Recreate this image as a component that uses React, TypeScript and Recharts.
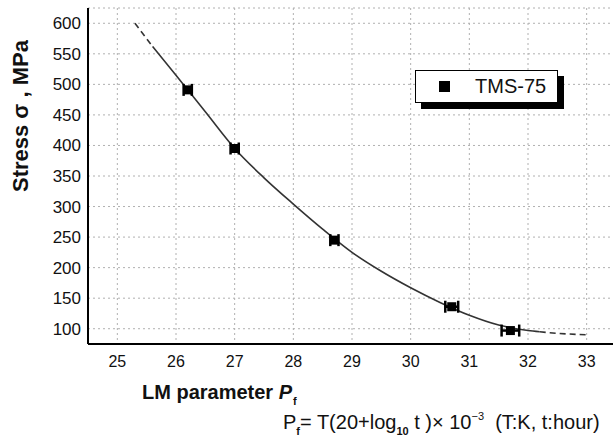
import React from 'react';
import {
  ComposedChart,
  Line,
  Scatter,
  ErrorBar,
  XAxis,
  YAxis,
  CartesianGrid,
} from 'recharts';

// measured rupture points (LM parameter, stress, horizontal error half-width)
const pointLM = [26.2, 27.0, 28.7, 30.7, 31.7];
const pointStress = [491, 395, 245, 136, 97];
const pointErr = [0.07, 0.07, 0.07, 0.11, 0.15];

// fitted curve: solid part and dashed extrapolations
const fitLM = [25.6, 26, 26.2, 26.5, 27, 27.5, 28, 28.5, 29, 29.5, 30, 30.5, 31, 31.5, 32, 32.2];
const fitStress = [562, 515, 491, 455, 395, 347, 304, 263, 225, 194, 167, 143, 122, 106, 97, 95];
const extLeftLM = [25.3, 25.6];
const extLeftStress = [600, 562];
const extRightLM = [32.2, 32.5, 33];
const extRightStress = [95, 92.5, 90];

const xTicks = [25, 26, 27, 28, 29, 30, 31, 32, 33];
const xMinorTicks = [25.5, 26.5, 27.5, 28.5, 29.5, 30.5, 31.5, 32.5];
const yTicks = [100, 150, 200, 250, 300, 350, 400, 450, 500, 550, 600];
const yMinorTicks = [125, 175, 225, 275, 325, 375, 425, 475, 525, 575];

const seriesName = 'TMS-75';

const points = pointLM.map((x, i) => ({ x, y: pointStress[i], err: pointErr[i] }));
const fit = fitLM.map((x, i) => ({ x, y: fitStress[i] }));
const extLeft = extLeftLM.map((x, i) => ({ x, y: extLeftStress[i] }));
const extRight = extRightLM.map((x, i) => ({ x, y: extRightStress[i] }));

const FONT = '"Liberation Sans", Arial, sans-serif';
const noTick = () => <g />;

function Square(props: any) {
  const { cx, cy } = props;
  if (cx == null || cy == null) return <g />;
  return <rect x={cx - 4.5} y={cy - 4.5} width={9} height={9} fill="#000" />;
}

export default function App() {
  return (
    <div
      style={{
        position: 'absolute',
        left: 0,
        top: 0,
        width: 613,
        height: 440,
        overflow: 'hidden',
        background: '#fff',
        fontFamily: FONT,
      }}
    >
      <ComposedChart width={620} height={440} margin={{ top: 8, right: 4, left: 0, bottom: 66 }}>
        <CartesianGrid stroke="#b0b0b0" strokeDasharray="2 3" />
        <XAxis
          type="number"
          dataKey="x"
          domain={[24.5, 33.5]}
          ticks={xTicks}
          interval={0}
          allowDataOverflow
          height={30}
          tickLine={false}
          tickSize={0}
          tickMargin={12}
          axisLine={{ stroke: '#000', strokeWidth: 2 }}
          tick={{ fontSize: 16, fill: '#111', fontFamily: FONT }}
        />
        <XAxis
          xAxisId="minorX"
          type="number"
          dataKey="x"
          domain={[24.5, 33.5]}
          ticks={xMinorTicks}
          interval={0}
          mirror
          height={0}
          axisLine={false}
          tickSize={3}
          tickLine={{ stroke: '#000', strokeWidth: 1.5 }}
          tick={noTick}
        />
        <XAxis
          xAxisId="majorX"
          type="number"
          dataKey="x"
          domain={[24.5, 33.5]}
          ticks={xTicks}
          interval={0}
          mirror
          height={0}
          axisLine={false}
          tickSize={6}
          tickLine={{ stroke: '#000', strokeWidth: 1.5 }}
          tick={noTick}
        />
        <XAxis
          xAxisId="top"
          orientation="top"
          type="number"
          dataKey="x"
          domain={[24.5, 33.5]}
          ticks={xTicks}
          mirror
          height={0}
          tickLine={false}
          axisLine={{ stroke: '#000', strokeWidth: 2 }}
          tick={noTick}
        />
        <YAxis
          type="number"
          dataKey="y"
          domain={[75, 625]}
          ticks={yTicks}
          interval={0}
          allowDataOverflow
          width={88}
          tickLine={false}
          tickSize={0}
          tickMargin={7}
          axisLine={{ stroke: '#000', strokeWidth: 2 }}
          tick={{ fontSize: 17, fill: '#111', fontFamily: FONT }}
        />
        <YAxis
          yAxisId="majorY"
          type="number"
          dataKey="y"
          domain={[75, 625]}
          ticks={yTicks}
          interval={0}
          mirror
          width={0}
          axisLine={false}
          tickSize={7}
          tickLine={{ stroke: '#000', strokeWidth: 1.5 }}
          tick={noTick}
        />
        <YAxis
          yAxisId="minorY"
          type="number"
          dataKey="y"
          domain={[75, 625]}
          ticks={yMinorTicks}
          interval={0}
          mirror
          width={0}
          axisLine={false}
          tickSize={4}
          tickLine={{ stroke: '#000', strokeWidth: 1.5 }}
          tick={noTick}
        />
        <Line
          data={extLeft}
          dataKey="y"
          type="monotone"
          stroke="#333"
          strokeWidth={1.6}
          strokeDasharray="6 4"
          dot={false}
          isAnimationActive={false}
        />
        <Line
          data={fit}
          dataKey="y"
          type="monotone"
          stroke="#333"
          strokeWidth={1.6}
          dot={false}
          isAnimationActive={false}
        />
        <Line
          data={extRight}
          dataKey="y"
          type="monotone"
          stroke="#333"
          strokeWidth={1.6}
          strokeDasharray="6 4"
          dot={false}
          isAnimationActive={false}
        />
        <Scatter name={seriesName} data={points} dataKey="y" shape={Square} isAnimationActive={false}>
          <ErrorBar dataKey="err" direction="x" width={6} stroke="#000" strokeWidth={2.5} isAnimationActive={false} />
        </Scatter>
      </ComposedChart>

      {/* legend box with offset shadow */}
      <div
        style={{
          position: 'absolute',
          left: 415,
          top: 70,
          width: 141,
          height: 31,
          border: '1.5px solid #000',
          background: '#fff',
          boxShadow: '6px 6px 0 #000',
        }}
      >
        <div style={{ position: 'absolute', left: 23, top: 10, width: 11, height: 11, background: '#000' }} />
        <div style={{ position: 'absolute', left: 59, top: 4, fontSize: 20, color: '#111', lineHeight: '22px' }}>
          {seriesName}
        </div>
      </div>

      <div
        style={{
          position: 'absolute',
          left: 21,
          top: 116,
          transform: 'translate(-50%, -50%) rotate(-90deg)',
          whiteSpace: 'nowrap',
          fontSize: 22,
          fontWeight: 'bold',
          color: '#111',
        }}
      >
        Stress σ , MPa
      </div>

      <div
        style={{
          position: 'absolute',
          left: 142,
          top: 380,
          whiteSpace: 'nowrap',
          fontSize: 20,
          fontWeight: 'bold',
          color: '#111',
          lineHeight: '24px',
        }}
      >
        LM parameter <i>P</i>
        <span style={{ fontSize: 11, position: 'relative', top: 6, marginLeft: 1 }}>f</span>
      </div>

      <div
        style={{
          position: 'absolute',
          left: 283,
          top: 410,
          whiteSpace: 'nowrap',
          fontSize: 20,
          color: '#111',
          lineHeight: '24px',
        }}
      >
        P<span style={{ fontSize: 11, position: 'relative', top: 6, fontWeight: 'bold' }}>f</span>= T(20+log
        <span style={{ fontSize: 11, position: 'relative', top: 6, fontWeight: 'bold' }}>10</span> t )× 10
        <span style={{ fontSize: 11, position: 'relative', top: -9 }}>−3</span>
        {'\u00a0\u00a0'}(T:K, t:hour)
      </div>
    </div>
  );
}
